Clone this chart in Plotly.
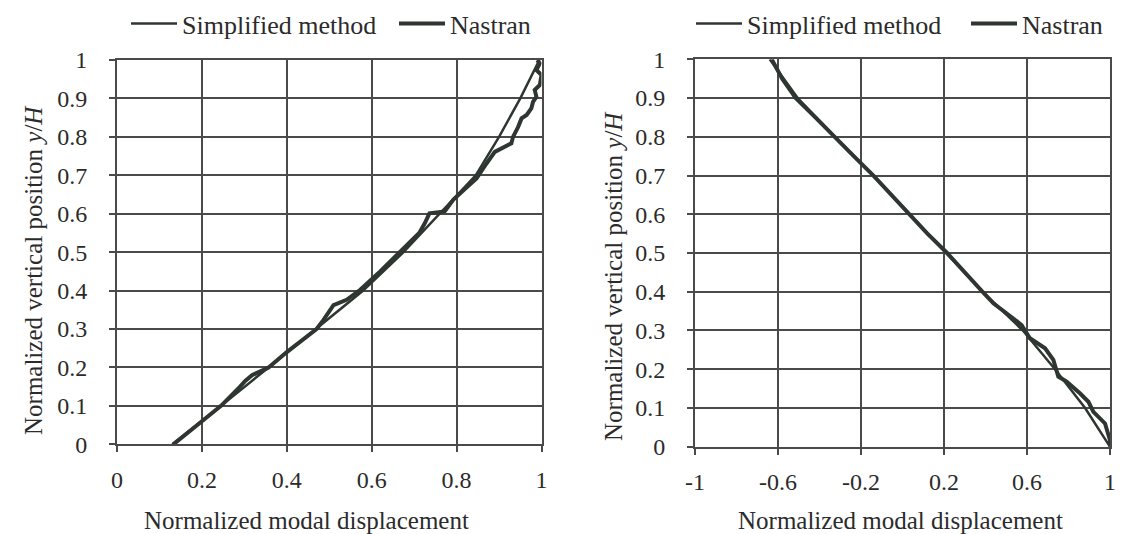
import plotly.graph_objects as go

# ---------------- data ----------------
# Left panel (mode 1)
left_simp_y = [0.0, 0.1, 0.2, 0.3, 0.4, 0.5, 0.6, 0.7, 0.8, 0.9, 1.0]
left_simp_x = [0.13, 0.245, 0.357, 0.469, 0.58, 0.675, 0.76, 0.845, 0.9, 0.95, 0.995]

left_nas_x = [0.133, 0.19, 0.245, 0.29, 0.302, 0.318, 0.345, 0.357, 0.40, 0.45, 0.47,
              0.486, 0.51, 0.541, 0.573, 0.62, 0.667, 0.70, 0.712, 0.725, 0.736, 0.772,
              0.792, 0.82, 0.847, 0.87, 0.89, 0.929, 0.933, 0.945, 0.953, 0.965, 0.976,
              0.98, 0.988, 0.984, 0.996, 1.0, 0.988, 0.996, 0.99]
left_nas_y = [0.0, 0.05, 0.1, 0.15, 0.165, 0.18, 0.193, 0.2, 0.24, 0.285, 0.3,
              0.323, 0.362, 0.376, 0.402, 0.45, 0.5, 0.535, 0.55, 0.575, 0.601, 0.606,
              0.636, 0.665, 0.692, 0.73, 0.761, 0.783, 0.8, 0.826, 0.848, 0.857, 0.874,
              0.891, 0.904, 0.922, 0.935, 0.961, 0.974, 0.991, 1.0]

# Right panel (mode 2)
right_simp_y = [0.0, 0.1, 0.2, 0.3, 0.4, 0.5, 0.6, 0.7, 0.8, 0.9, 1.0]
right_simp_x = [1.0, 0.88, 0.735, 0.58, 0.385, 0.21, 0.035, -0.14, -0.325, -0.505, -0.64]

right_nas_x = [1.0, 1.0, 0.976, 0.92, 0.896, 0.855, 0.791, 0.751, 0.727, 0.687, 0.614,
               0.574, 0.534, 0.438, 0.385, 0.30, 0.215, 0.12, 0.035, -0.05, -0.14,
               -0.235, -0.325, -0.42, -0.515, -0.58, -0.63]
right_nas_y = [0.0, 0.017, 0.06, 0.09, 0.116, 0.138, 0.168, 0.181, 0.224, 0.254, 0.28,
               0.314, 0.331, 0.37, 0.4, 0.45, 0.5, 0.55, 0.6, 0.65, 0.7,
               0.75, 0.8, 0.85, 0.9, 0.95, 1.0]

left_xticks = [0, 0.2, 0.4, 0.6, 0.8, 1]
left_xtick_text = ["0", "0.2", "0.4", "0.6", "0.8", "1"]
right_xticks = [-1, -0.6, -0.2, 0.2, 0.6, 1]
right_xtick_text = ["-1", "-0.6", "-0.2", "0.2", "0.6", "1"]
yticks = [0, 0.1, 0.2, 0.3, 0.4, 0.5, 0.6, 0.7, 0.8, 0.9, 1]
ytick_text = ["0", "0.1", "0.2", "0.3", "0.4", "0.5", "0.6", "0.7", "0.8", "0.9", "1"]

x_title = "Normalized modal displacement"
y_title = "Normalized vertical position <i>y</i>/<i>H</i>"
names = ["Simplified method", "Nastran"]

# ---------------- style ----------------
W, H = 1132, 534
FONT = "Liberation Serif"
TXT = "#2b2b2b"
LINE = "#2f3631"
GRID = "#4a4a4a"

fig = go.Figure()
fig.add_trace(go.Scatter(x=left_simp_x, y=left_simp_y, mode="lines", name=names[0],
                         line=dict(color=LINE, width=2.5), xaxis="x", yaxis="y",
                         legend="legend"))
fig.add_trace(go.Scatter(x=left_nas_x, y=left_nas_y, mode="lines", name=names[1],
                         line=dict(color=LINE, width=4), xaxis="x", yaxis="y",
                         legend="legend"))
fig.add_trace(go.Scatter(x=right_simp_x, y=right_simp_y, mode="lines", name=names[0],
                         line=dict(color=LINE, width=2.5), xaxis="x2", yaxis="y2",
                         legend="legend2"))
fig.add_trace(go.Scatter(x=right_nas_x, y=right_nas_y, mode="lines", name=names[1],
                         line=dict(color=LINE, width=4), xaxis="x2", yaxis="y2",
                         legend="legend2"))

def px_x(p):
    return p / W

def px_y(p):
    return 1 - p / H

common_axis = dict(showgrid=True, gridcolor=GRID, gridwidth=1.8, showline=True,
                   linecolor=GRID, linewidth=1.8, mirror=True, zeroline=False,
                   ticks="outside", ticklen=6, tickcolor=GRID, tickwidth=1.5,
                   automargin=False,
                   tickfont=dict(family=FONT, size=24, color=TXT))
xstyle = dict(common_axis, ticklabelstandoff=7)
ystyle = dict(common_axis, ticklabelstandoff=17)

fig.update_layout(
    width=W, height=H,
    margin=dict(l=0, r=0, t=0, b=0, autoexpand=False),
    paper_bgcolor="white", plot_bgcolor="white",
    font=dict(family=FONT, color=TXT),
    xaxis=dict(domain=[px_x(117), px_x(541.5)], range=[0, 1], tickvals=left_xticks,
               ticktext=left_xtick_text, anchor="y", **xstyle),
    yaxis=dict(domain=[px_y(444.3), px_y(60)], range=[0, 1], tickvals=yticks,
               ticktext=ytick_text, anchor="x", **ystyle),
    xaxis2=dict(domain=[px_x(695), px_x(1110)], range=[-1, 1], tickvals=right_xticks,
                ticktext=right_xtick_text, anchor="y2", **xstyle),
    yaxis2=dict(domain=[px_y(446.7), px_y(59.3)], range=[0, 1], tickvals=yticks,
                ticktext=ytick_text, anchor="x2", **ystyle),
    legend=dict(orientation="h", x=px_x(126), y=1, xanchor="left", yanchor="top",
                font=dict(family=FONT, size=26, color=TXT), bgcolor="rgba(0,0,0,0)",
                itemwidth=46, entrywidth=207, entrywidthmode="pixels"),
    legend2=dict(orientation="h", x=px_x(691), y=1, xanchor="left", yanchor="top",
                 font=dict(family=FONT, size=26, color=TXT), bgcolor="rgba(0,0,0,0)",
                 itemwidth=46, entrywidth=214, entrywidthmode="pixels"),
    annotations=[
        dict(text=x_title, xref="paper", yref="paper", x=px_x(306), y=px_y(520),
             xanchor="center", yanchor="middle", showarrow=False,
             font=dict(family=FONT, size=25, color=TXT)),
        dict(text=x_title, xref="paper", yref="paper", x=px_x(900), y=px_y(520),
             xanchor="center", yanchor="middle", showarrow=False,
             font=dict(family=FONT, size=25, color=TXT)),
        dict(text=y_title, xref="paper", yref="paper", x=px_x(33), y=px_y(270),
             xanchor="center", yanchor="middle", showarrow=False, textangle=-90,
             font=dict(family=FONT, size=25, color=TXT)),
        dict(text=y_title, xref="paper", yref="paper", x=px_x(613), y=px_y(276),
             xanchor="center", yanchor="middle", showarrow=False, textangle=-90,
             font=dict(family=FONT, size=25, color=TXT)),
    ],
)

fig.write_html("out.html", config={"displayModeBar": False},
               post_script="document.body.style.margin='0';document.body.style.overflow='hidden';")
